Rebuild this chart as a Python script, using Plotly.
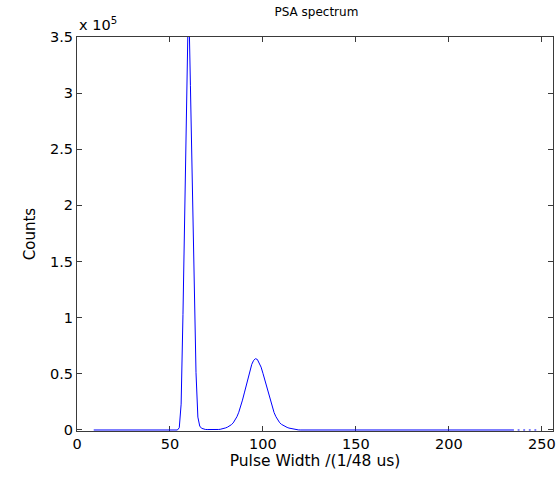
import plotly.graph_objects as go

# Pulse width bins (1/48 us units)
pulse_width = list(range(9, 249))

# Counts per bin (None = gap in the trace)
counts = [
    # 9-54
    0, 0, 0, 0, 0, 0, 0, 0, 0, 0,
    0, 0, 0, 0, 0, 0, 0, 0, 0, 0,
    0, 0, 0, 0, 0, 0, 0, 0, 0, 0,
    0, 0, 0, 0, 0, 0, 0, 0, 0, 0,
    0, 0, 0, 0, 0, 0,
    # 55-65 (main peak)
    2000, 23000, 103000, 213000, 304000, 390000, 307000, 225000, 136000, 51000, 11500,
    # 66-76
    3500, 1500, 800, 500, 400, 300, 300, 300, 300, 350, 450,
    # 77-95
    600, 900, 1300, 1900, 2600, 3500, 4700, 6300, 8600, 11800,
    15800, 20800, 26600, 33000, 40000, 47000, 53500, 58500, 62000,
    # 96-118
    63500, 62800, 60000, 56000, 50500, 44500, 38000, 31500, 25500, 20000,
    15500, 11800, 8800, 6500, 5000, 3900, 3000, 2300, 1700, 1300,
    800, 400, 150,
    # 119-235
    100, 0, 0, 0, 0, 0, 0, 0, 0, 0,
    0, 0, 0, 0, 0, 0, 0, 0, 0, 0,
    0, 0, 0, 0, 0, 0, 0, 0, 0, 0,
    0, 0, 0, 0, 0, 0, 0, 0, 0, 0,
    0, 0, 0, 0, 0, 0, 0, 0, 0, 0,
    0, 0, 0, 0, 0, 0, 0, 0, 0, 0,
    0, 0, 0, 0, 0, 0, 0, 0, 0, 0,
    0, 0, 0, 0, 0, 0, 0, 0, 0, 0,
    0, 0, 0, 0, 0, 0, 0, 0, 0, 0,
    0, 0, 0, 0, 0, 0, 0, 0, 0, 0,
    0, 0, 0, 0, 0, 0, 0, 0, 0, 0,
    0, 0, 0, 0, 0, 0, 0,
    # 236-248 (sparse, dotted)
    None, 0, 0, None, 0, 0, None, 0, 0, None, 0, 0, None,
]

x_ticks = [0, 50, 100, 150, 200, 250]
y_ticks = [0, 50000, 100000, 150000, 200000, 250000, 300000, 350000]
y_tick_labels = ["0", "0.5", "1", "1.5", "2", "2.5", "3", "3.5"]

font_family = "DejaVu Sans, Liberation Sans, Arial, sans-serif"

fig = go.Figure()
fig.add_trace(go.Scatter(
    x=pulse_width, y=counts, mode="lines",
    line=dict(color="#0000FF", width=1),
    connectgaps=False, showlegend=False,
))

axis_common = dict(
    showline=True, linecolor="#3a3a3a", linewidth=1, mirror="ticks",
    ticks="inside", ticklen=5, tickcolor="#3a3a3a", tickwidth=1,
    showgrid=False, zeroline=False, layer="below traces",
    ticklabeloverflow="allow",
    tickfont=dict(family=font_family, size=14.5, color="#000000"),
)

fig.update_layout(
    width=558, height=482,
    margin=dict(l=77, r=2, t=37, b=51),
    paper_bgcolor="white", plot_bgcolor="white",
    title=dict(text="PSA spectrum", x=0.567, xanchor="center", y=0.985, yanchor="top",
               font=dict(family=font_family, size=12, color="#000000")),
    xaxis=dict(range=[0, 256], tickvals=x_ticks,
               title=dict(text="Pulse Width /(1/48 us)", standoff=3,
                          font=dict(family=font_family, size=15.5, color="#000000")),
               **axis_common),
    yaxis=dict(range=[-900, 350000], tickvals=y_ticks, ticktext=y_tick_labels,
               title=dict(text="Counts", standoff=10,
                          font=dict(family=font_family, size=15, color="#000000")),
               **axis_common),
    annotations=[dict(
        text="x 10<sup>5</sup>", xref="paper", yref="paper", x=0, y=1,
        xanchor="left", yanchor="bottom", showarrow=False, yshift=2,
        font=dict(family=font_family, size=14.5, color="#000000"),
    )],
)

fig.write_html("out.html")
